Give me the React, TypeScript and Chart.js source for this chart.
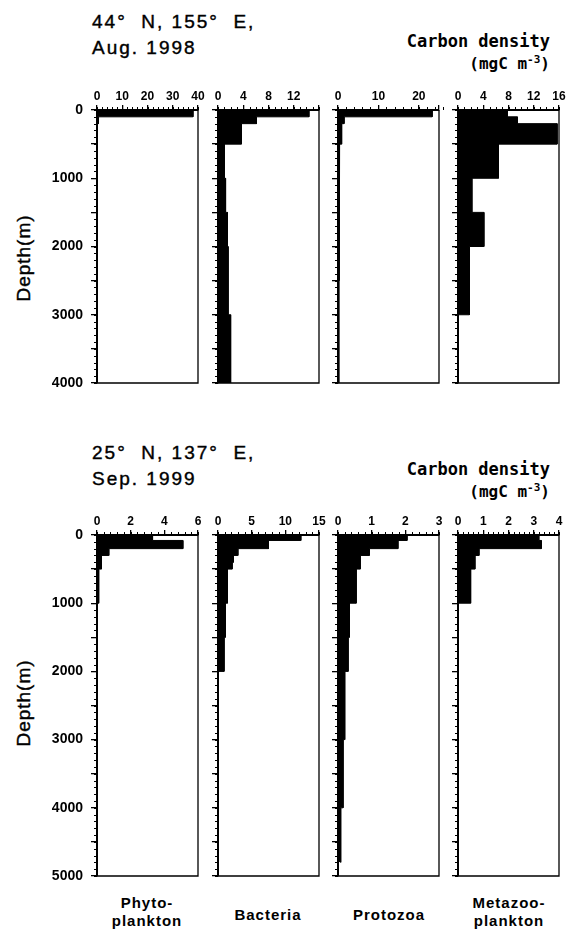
import React, { useEffect, useRef } from "react";
import { Chart, registerables } from "chart.js";

Chart.register(...registerables);

// ---------- DATA ----------
// Depth layer boundaries (m)
const depthsAug1998 = [0, 100, 200, 500, 1000, 1500, 2000, 2500, 3000, 4000];
const depthsSep1999 = [0, 80, 200, 300, 400, 500, 1000, 1500, 2000, 3000, 4000, 4800];

// Carbon density (mgC m^-3), one value per depth layer
const phytoAug1998 = [38, 0.6, 0.1, 0, 0, 0, 0, 0, 0];
const bacteriaAug1998 = [14.4, 6.1, 3.7, 1.0, 1.2, 1.5, 1.6, 1.6, 2.0];
const protozoaAug1998 = [23.3, 1.5, 0.9, 0.4, 0.3, 0.3, 0.25, 0.2, 0.2];
const metazooAug1998 = [7.8, 9.4, 15.7, 6.4, 2.2, 4.1, 1.8, 1.8, 0];

const phytoSep1999 = [3.3, 5.1, 0.7, 0.26, 0.26, 0.1, 0, 0, 0, 0, 0];
const bacteriaSep1999 = [12.3, 7.5, 2.95, 2.3, 2.1, 1.4, 1.1, 0.9, 0, 0, 0];
const protozoaSep1999 = [2.05, 1.78, 0.93, 0.66, 0.66, 0.54, 0.34, 0.3, 0.2, 0.15, 0.08];
const metazooSep1999 = [3.2, 3.3, 0.83, 0.67, 0.67, 0.5, 0, 0, 0, 0, 0];

// Axis ranges and tick labels
const xMaxAug1998 = [40, 16, 25, 16];
const xLabelsAug1998 = [[0, 10, 20, 30, 40], [0, 4, 8, 12], [0, 10, 20], [0, 4, 8, 12, 16]];
const xMinorAug1998 = [2, 1, 2, 1];
const xMaxSep1999 = [6, 15, 3, 4];
const xLabelsSep1999 = [[0, 2, 4, 6], [0, 5, 10, 15], [0, 1, 2, 3], [0, 1, 2, 3, 4]];
const xMinorSep1999 = [0.4, 1, 0.2, 0.2];
const depthMaxAug1998 = 4000;
const depthMaxSep1999 = 5000;
const depthLabels = [0, 1000, 2000, 3000, 4000, 5000];

const stationAug1998 = ["44°  N, 155°  E,", "Aug. 1998"];
const stationSep1999 = ["25°  N, 137°  E,", "Sep. 1999"];
const groupLabels = [["Phyto-", "plankton"], ["Bacteria"], ["Protozoa"], ["Metazoo-", "plankton"]];

// ---------- LAYOUT ----------
const COL_LEFT = [97, 218, 338, 458];
const PLOT_W = 101;
const ROWS = [
  { top: 110, bottom: 383 },
  { top: 535, bottom: 876 },
];

function profilePoints(depths: number[], values: number[]) {
  const pts: { x: number; y: number }[] = [];
  values.forEach((v, i) => {
    pts.push({ x: v, y: depths[i] });
    pts.push({ x: v, y: depths[i + 1] });
  });
  return pts;
}

const framePlugin = {
  id: "frame",
  afterDraw(chart: any, _args: any, opts: any) {
    const { ctx, chartArea: a, scales } = chart;
    const xs = scales.x;
    const ys = scales.y;
    ctx.save();
    ctx.strokeStyle = "#000";
    ctx.lineWidth = 1.3;
    ctx.beginPath();
    ctx.moveTo(a.right, a.top);
    ctx.lineTo(a.right, a.bottom);
    ctx.lineTo(a.left, a.bottom);
    ctx.stroke();
    ctx.lineWidth = 1;
    ctx.beginPath();
    const n = Math.round(xs.max / opts.xMinor);
    for (let i = 0; i <= n; i++) {
      const px = Math.round(xs.getPixelForValue(i * opts.xMinor)) + 0.5;
      ctx.moveTo(px, a.top);
      ctx.lineTo(px, a.top - 3);
    }
    const m = Math.round(ys.max / 100);
    for (let i = 0; i <= m; i++) {
      const py = Math.round(ys.getPixelForValue(i * 100)) + 0.5;
      ctx.moveTo(a.left, py);
      ctx.lineTo(a.left - 3, py);
    }
    ctx.stroke();
    ctx.restore();
  },
};

type PanelProps = {
  depths: number[];
  values: number[];
  xMax: number;
  xLabels: number[];
  xMinor: number;
  depthMax: number;
  col: number;
  row: number;
};

function Panel(p: PanelProps) {
  const ref = useRef<HTMLCanvasElement>(null);
  const showY = p.col === 0;
  const yAxisW = showY ? 70 : 24;
  const xAxisH = 26;
  const padR = 12;
  const padB = 4;
  const r = ROWS[p.row];
  const plotH = r.bottom - r.top;
  const w = yAxisW + PLOT_W + padR;
  const h = xAxisH + plotH + padB;
  const left = COL_LEFT[p.col] - yAxisW;
  const top = r.top - xAxisH;

  useEffect(() => {
    const xStep = p.xLabels[1] - p.xLabels[0];
    const chart = new Chart(ref.current as HTMLCanvasElement, {
      type: "line",
      data: {
        datasets: [
          {
            data: profilePoints(p.depths, p.values),
            borderColor: "#000",
            borderWidth: 1,
            backgroundColor: "#000",
            fill: "origin",
            pointRadius: 0,
            tension: 0,
          },
        ],
      },
      options: {
        indexAxis: "y",
        animation: false,
        responsive: false,
        maintainAspectRatio: false,
        events: [],
        layout: { autoPadding: false, padding: { left: 0, top: 0, right: padR, bottom: padB } },
        plugins: {
          legend: { display: false },
          tooltip: { enabled: false },
          frame: { xMinor: p.xMinor },
        } as any,
        scales: {
          x: {
            type: "linear",
            position: "top",
            min: 0,
            max: p.xMax,
            ticks: {
              stepSize: xStep,
              autoSkip: false,
              maxRotation: 0,
              padding: 1,
              color: "#000",
              font: { family: "'Liberation Sans', Arial, sans-serif", size: 12, weight: "bold" },
              callback: (v: any) => (p.xLabels.includes(Number(v)) ? String(v) : ""),
            },
            grid: { drawOnChartArea: false, tickLength: 5, color: "#000", lineWidth: 1.3 },
            border: { display: true, color: "#000", width: 2 },
            afterFit: (s: any) => {
              s.height = xAxisH;
              s.paddingLeft = 0;
              s.paddingRight = 0;
            },
          },
          y: {
            type: "linear",
            reverse: true,
            min: 0,
            max: p.depthMax,
            ticks: {
              stepSize: 500,
              autoSkip: false,
              padding: 8,
              color: "#000",
              font: { family: "'Liberation Sans', Arial, sans-serif", size: 14, weight: "bold" },
              callback: (v: any) => (showY && depthLabels.includes(Number(v)) ? String(v) : ""),
            },
            grid: { drawOnChartArea: false, tickLength: 6, color: "#000", lineWidth: 1.3 },
            border: { display: true, color: "#000", width: 2 },
            afterFit: (s: any) => {
              s.width = yAxisW;
              s.paddingTop = 0;
              s.paddingBottom = 0;
            },
          },
        },
      } as any,
      plugins: [framePlugin],
    });
    return () => chart.destroy();
  }, []);

  return (
    <canvas
      ref={ref}
      width={w}
      height={h}
      style={{ position: "absolute", left, top, width: w, height: h }}
    />
  );
}

const titleFont = "'Liberation Sans', Arial, sans-serif";
const monoFont = "'DejaVu Sans Mono', monospace";

function Station({ lines, baseline }: { lines: string[]; baseline: number }) {
  return (
    <>
      {lines.map((t, i) => (
        <div
          key={i}
          style={{
            position: "absolute",
            left: 92,
            top: baseline + i * 26 - 15.5,
            fontFamily: titleFont,
            fontSize: 19,
            lineHeight: "19px",
            letterSpacing: "2px",
            whiteSpace: "pre",
            color: "#000",
            WebkitTextStroke: "0.4px #000",
          }}
        >
          {t}
        </div>
      ))}
    </>
  );
}

function Units({ baseline }: { baseline: number }) {
  return (
    <>
      <div
        style={{
          position: "absolute",
          right: 31,
          top: baseline - 14.4,
          fontFamily: monoFont,
          fontWeight: "bold",
          fontSize: 17,
          lineHeight: "17px",
          whiteSpace: "pre",
          color: "#000",
        }}
      >
        Carbon density
      </div>
      <div
        style={{
          position: "absolute",
          right: 31,
          top: baseline + 23 - 14,
          fontFamily: monoFont,
          fontWeight: "bold",
          fontSize: 16,
          lineHeight: "16px",
          whiteSpace: "pre",
          color: "#000",
        }}
      >
        (mgC m<sup style={{ fontSize: 11, verticalAlign: "6px", lineHeight: 0 }}>-3</sup>)
      </div>
    </>
  );
}

function DepthTitle({ cy }: { cy: number }) {
  return (
    <div
      style={{
        position: "absolute",
        left: 23,
        top: cy,
        transform: "translate(-50%, -50%) rotate(-90deg)",
        fontFamily: titleFont,
        fontSize: 19,
        lineHeight: "19px",
        letterSpacing: "1px",
        whiteSpace: "nowrap",
        color: "#000",
        WebkitTextStroke: "0.4px #000",
      }}
    >
      Depth(m)
    </div>
  );
}

export default function App() {
  const aug = [phytoAug1998, bacteriaAug1998, protozoaAug1998, metazooAug1998];
  const sep = [phytoSep1999, bacteriaSep1999, protozoaSep1999, metazooSep1999];
  const labelCenters = [147, 268, 389, 509];
  return (
    <div style={{ position: "absolute", left: 0, top: 0, width: 581, height: 932, background: "#fff", overflow: "hidden" }}>
      <Station lines={stationAug1998} baseline={27} />
      <Station lines={stationSep1999} baseline={458} />
      <Units baseline={47} />
      <Units baseline={475} />
      <DepthTitle cy={258} />
      <DepthTitle cy={703} />
      {aug.map((vals, i) => (
        <Panel
          key={"a" + i}
          depths={depthsAug1998}
          values={vals}
          xMax={xMaxAug1998[i]}
          xLabels={xLabelsAug1998[i]}
          xMinor={xMinorAug1998[i]}
          depthMax={depthMaxAug1998}
          col={i}
          row={0}
        />
      ))}
      {sep.map((vals, i) => (
        <Panel
          key={"s" + i}
          depths={depthsSep1999}
          values={vals}
          xMax={xMaxSep1999[i]}
          xLabels={xLabelsSep1999[i]}
          xMinor={xMinorSep1999[i]}
          depthMax={depthMaxSep1999}
          col={i}
          row={1}
        />
      ))}
      {groupLabels.map((lines, i) => (
        <div
          key={"g" + i}
          style={{
            position: "absolute",
            left: labelCenters[i] - 60,
            width: 120,
            top: lines.length === 2 ? 893.8 : 905.8,
            textAlign: "center",
            fontFamily: titleFont,
            fontWeight: "bold",
            fontSize: 15,
            lineHeight: "18px",
            letterSpacing: "1px",
            color: "#000",
          }}
        >
          {lines.map((t, j) => (
            <div key={j}>{t}</div>
          ))}
        </div>
      ))}
    </div>
  );
}
